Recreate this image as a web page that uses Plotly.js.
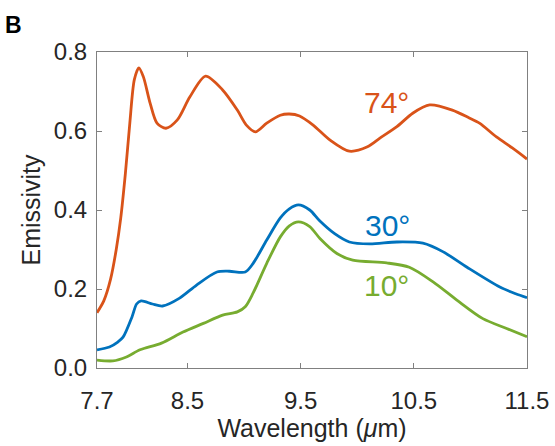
<!DOCTYPE html>
<html>
<head>
<meta charset="utf-8">
<script src="https://cdn.plot.ly/plotly-3.0.1.min.js"></script>
<style>html,body{margin:0;padding:0;background:#fff;}#chart{width:555px;height:446px;}</style>
</head>
<body>
<div id="chart"></div>
<script>
const x74 = [7.70,7.76,7.82,7.87,7.91,7.95,7.99,8.03,8.07,8.11,8.17,8.23,8.31,8.41,8.52,8.66,8.81,8.94,9.02,9.10,9.20,9.32,9.40,9.49,9.61,9.76,9.93,10.09,10.20,10.35,10.49,10.64,10.84,10.99,11.08,11.23,11.37,11.50];
const y74 = [0.140,0.170,0.225,0.300,0.380,0.490,0.620,0.730,0.760,0.737,0.670,0.620,0.607,0.628,0.686,0.739,0.704,0.653,0.615,0.598,0.620,0.640,0.643,0.638,0.615,0.577,0.549,0.560,0.582,0.611,0.645,0.666,0.653,0.633,0.620,0.585,0.557,0.529];
const x30 = [7.70,7.81,7.88,7.93,8.01,8.05,8.09,8.19,8.28,8.43,8.58,8.76,8.87,9.01,9.08,9.20,9.32,9.40,9.48,9.58,9.67,9.80,9.93,10.11,10.35,10.58,10.76,10.97,11.26,11.40,11.50];
const y30 = [0.046,0.053,0.065,0.078,0.130,0.162,0.170,0.162,0.157,0.177,0.210,0.243,0.245,0.243,0.265,0.324,0.380,0.403,0.413,0.400,0.372,0.340,0.319,0.314,0.319,0.316,0.294,0.255,0.205,0.188,0.178];
const x10 = [7.70,7.84,7.96,8.08,8.27,8.46,8.64,8.81,8.94,9.01,9.08,9.20,9.32,9.40,9.48,9.58,9.67,9.82,9.96,10.26,10.46,10.67,10.88,11.11,11.32,11.50];
const y10 = [0.020,0.018,0.028,0.046,0.063,0.091,0.113,0.134,0.142,0.155,0.190,0.265,0.332,0.360,0.370,0.358,0.328,0.290,0.273,0.266,0.255,0.218,0.172,0.125,0.100,0.079];
const xTicks = [7.7,8.5,9.5,10.5,11.5];
const yTicks = [0,0.2,0.4,0.6,0.8];
const labels = ["74°","30°","10°"];
const labelX = [10.26,10.27,10.26];
const labelY = [0.671,0.362,0.208];
const colors = ["#D95319","#0072BD","#77AC30"];

const F = "Liberation Sans, Arial, Helvetica, sans-serif";
const mk = (x,y,c)=>({x:x,y:y,type:'scatter',mode:'lines',line:{color:c,width:2.8,shape:'spline',smoothing:0.8},hoverinfo:'skip'});
const data = [mk(x74,y74,colors[0]), mk(x30,y30,colors[1]), mk(x10,y10,colors[2])];

const annotations = labels.map((t,i)=>({x:labelX[i],y:labelY[i],xref:'x',yref:'y',text:t,showarrow:false,font:{family:F,size:30,color:colors[i]},xanchor:'center',yanchor:'middle'}));
annotations.push({xref:'paper',yref:'paper',x:-0.218,y:1.085,text:'<b>B</b>',showarrow:false,xanchor:'left',yanchor:'middle',font:{family:F,size:23,color:'#000'}});

const axBase = {showline:true,linecolor:'#808080',linewidth:1,mirror:'ticks',ticks:'inside',ticklen:5,tickcolor:'#808080',showgrid:false,zeroline:false,tickfont:{family:F,size:24,color:'#262626'}};

const layout = {
  width:555,height:446,
  margin:{l:97,r:28,t:52,b:78},
  paper_bgcolor:'#fff',plot_bgcolor:'#fff',
  showlegend:false,
  xaxis:Object.assign({},axBase,{range:[7.7,11.5],tickvals:xTicks,ticktext:xTicks.map(v=>v.toFixed(1)),ticklabelstandoff:11,title:{text:'Wavelength (<i>μ</i>m)',font:{family:F,size:25,color:'#262626'},standoff:2}}),
  yaxis:Object.assign({},axBase,{range:[0,0.8],tickvals:yTicks,ticktext:yTicks.map(v=>v.toFixed(1)),ticklabelstandoff:4,title:{text:'Emissivity',font:{family:F,size:25,color:'#262626'},standoff:6}}),
  annotations:annotations
};
Plotly.newPlot('chart',data,layout,{displayModeBar:false,staticPlot:true});
</script>
</body>
</html>
